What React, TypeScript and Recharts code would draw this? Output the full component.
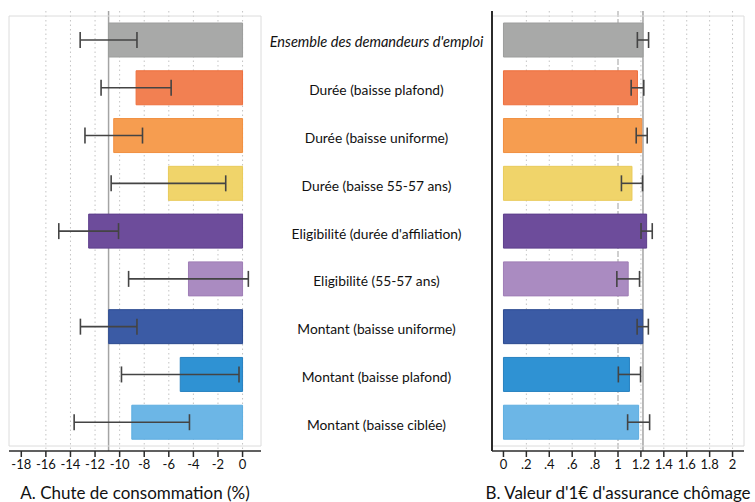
import React from 'react';
import {
  BarChart,
  Bar,
  Cell,
  ErrorBar,
  XAxis,
  YAxis,
  CartesianGrid,
  ReferenceArea,
} from 'recharts';

/* ------------------------------------------------------------------ */
/*  Data                                            */
/* ------------------------------------------------------------------ */

const categories = [
  "Ensemble des demandeurs d'emploi",
  'Durée (baisse plafond)',
  'Durée (baisse uniforme)',
  'Durée (baisse 55-57 ans)',
  "Eligibilité (durée d'affiliation)",
  'Eligibilité (55-57 ans)',
  'Montant (baisse uniforme)',
  'Montant (baisse plafond)',
  'Montant (baisse ciblée)',
];

// A. chute de consommation (%) and half-width of the interval
const consoDrop = [-10.9, -8.66, -10.48, -6.03, -12.52, -4.4, -10.89, -5.07, -9.01];
const consoErr = [2.31, 2.85, 2.34, 4.66, 2.43, 4.87, 2.3, 4.78, 4.69];

// B. valeur d'1€ d'assurance chômage and half-width of the interval
const valueEuro = [1.218, 1.17, 1.207, 1.122, 1.25, 1.089, 1.216, 1.1, 1.18];
const valueErr = [0.049, 0.055, 0.048, 0.092, 0.049, 0.099, 0.049, 0.097, 0.096];

const leftDomain = [-19, 1.5];
const leftTicks = [-18, -16, -14, -12, -10, -8, -6, -4, -2, 0];
const leftGrid = [-16, -14, -12, -10, -8, -6, -4, -2, 0];
const rightDomain = [-0.1, 2.1];
const rightTicks = [0, 0.2, 0.4, 0.6, 0.8, 1, 1.2, 1.4, 1.6, 1.8, 2];
const rightTickLabels = ['0', '.2', '.4', '.6', '.8', '1', '1.2', '1.4', '1.6', '1.8', '2'];
const rightGrid = [0.2, 0.4, 0.6, 0.8, 1.2, 1.4, 1.6, 1.8, 2];

const fills = ['#a8a9a8', '#f28052', '#f69d50', '#f0d46a', '#6d4c9b', '#aa8bc1', '#3b5ba5', '#2f92d3', '#6cb6e6'];
const strokes = ['#9c9d9c', '#ee6f3d', '#f18f3f', '#e9cb5a', '#5e3f8b', '#9f7db6', '#2b4a90', '#2781c0', '#5eaee0'];

const rows = categories.map((name, i) => ({
  name,
  conso: consoDrop[i],
  consoErr: consoErr[i],
  value: valueEuro[i],
  valueErr: valueErr[i],
}));

/* ------------------------------------------------------------------ */

const FONT = 'Lato, "Open Sans", sans-serif';
const DARK = '#2b2b2b';
const FRAME = '#dcdcdc';
const GRID = '#c4c4c4';
const REF = '#a4a4a4';

function MiddleLabel(props: any) {
  const { x, y, payload } = props;
  const italic = payload.index === 0;
  return (
    <text
      x={x - 115.5}
      y={y + 2}
      textAnchor="middle"
      dominantBaseline="central"
      fontSize={italic ? 14.6 : 13.8}
      fontFamily={FONT}
      fontStyle={italic ? 'italic' : 'normal'}
      fill="#111"
    >
      {payload.value}
    </text>
  );
}

export default function App() {
  return (
    <div
      style={{
        position: 'absolute',
        left: 0,
        top: 0,
        width: 755,
        height: 502,
        background: '#fff',
        fontFamily: FONT,
      }}
    >
      {/* Panel A */}
      <div style={{ position: 'absolute', left: 0, top: 0 }}>
        <BarChart
          width={270}
          height={502}
          data={rows}
          layout="vertical"
          margin={{ top: 11, right: 9, bottom: 0, left: 9 }}
        >
          <CartesianGrid
            horizontal={false}
            verticalValues={leftGrid}
            stroke={GRID}
            strokeDasharray="1.5 3"
          />
          <CartesianGrid
            horizontal={false}
            verticalValues={[consoDrop[0]]}
            stroke={REF}
            strokeWidth={1.5}
          />
          <ReferenceArea x1={leftDomain[0]} x2={leftDomain[1]} fill="none" stroke={FRAME} />
          <XAxis
            type="number"
            domain={leftDomain}
            ticks={leftTicks}
            interval={0}
            height={51}
            tickSize={6}
            tickMargin={3}
            stroke={DARK}
            tick={{ fill: '#111', fontSize: 13, fontFamily: FONT }}
            axisLine={{ stroke: DARK, strokeWidth: 1.5 }}
            tickLine={{ stroke: DARK, strokeWidth: 1.5 }}
            label={{
              value: 'A. Chute de consommation (%)',
              position: 'insideBottom',
              offset: 3,
              fill: '#111',
              fontSize: 17,
              fontFamily: FONT,
            }}
          />
          <YAxis
            type="category"
            dataKey="name"
            orientation="right"
            width={0}
            tick={false}
            tickLine={false}
            padding={{ top: 5, bottom: 5 }}
            axisLine={{ stroke: DARK, strokeWidth: 2 }}
          />
          <Bar dataKey="conso" barSize={34} isAnimationActive={false}>
            {rows.map((r, i) => (
              <Cell key={r.name} fill={fills[i]} stroke={strokes[i]} strokeWidth={1} />
            ))}
            <ErrorBar dataKey="consoErr" direction="x" width={8} stroke="#444" strokeWidth={1.6} />
          </Bar>
        </BarChart>
      </div>

      {/* Labels + Panel B */}
      <div style={{ position: 'absolute', left: 261, top: 0 }}>
        <BarChart
          width={494}
          height={502}
          data={rows}
          layout="vertical"
          margin={{ top: 11, right: 11, bottom: 0, left: 0 }}
        >
          <CartesianGrid
            horizontal={false}
            verticalValues={rightGrid}
            stroke={GRID}
            strokeDasharray="1.5 3"
          />
          <CartesianGrid
            horizontal={false}
            verticalValues={[1]}
            stroke="#b0b0b0"
            strokeDasharray="6 2"
            strokeWidth={1.2}
          />
          <CartesianGrid
            horizontal={false}
            verticalValues={[valueEuro[0]]}
            stroke={REF}
            strokeWidth={1.5}
          />
          <ReferenceArea x1={rightDomain[0]} x2={rightDomain[1]} fill="none" stroke={FRAME} />
          <XAxis
            type="number"
            domain={rightDomain}
            ticks={rightTicks}
            interval={0}
            height={51}
            tickSize={6}
            tickMargin={3}
            stroke={DARK}
            tickFormatter={(v: number) => rightTickLabels[rightTicks.indexOf(v)] ?? String(v)}
            tick={{ fill: '#111', fontSize: 13, fontFamily: FONT }}
            axisLine={{ stroke: DARK, strokeWidth: 1.5 }}
            tickLine={{ stroke: DARK, strokeWidth: 1.5 }}
            label={{
              value: "B. Valeur d'1€ d'assurance chômage",
              position: 'insideBottom',
              offset: 3,
              fill: '#111',
              fontSize: 17,
              fontFamily: FONT,
            }}
          />
          <YAxis
            type="category"
            dataKey="name"
            orientation="left"
            width={231}
            tickSize={0}
            tickMargin={0}
            tickLine={false}
            interval={0}
            tick={<MiddleLabel />}
            padding={{ top: 5, bottom: 5 }}
            axisLine={{ stroke: DARK, strokeWidth: 2 }}
          />
          <Bar dataKey="value" barSize={34} isAnimationActive={false}>
            {rows.map((r, i) => (
              <Cell key={r.name} fill={fills[i]} stroke={strokes[i]} strokeWidth={1} />
            ))}
            <ErrorBar dataKey="valueErr" direction="x" width={8} stroke="#444" strokeWidth={1.6} />
          </Bar>
        </BarChart>
      </div>
    </div>
  );
}
